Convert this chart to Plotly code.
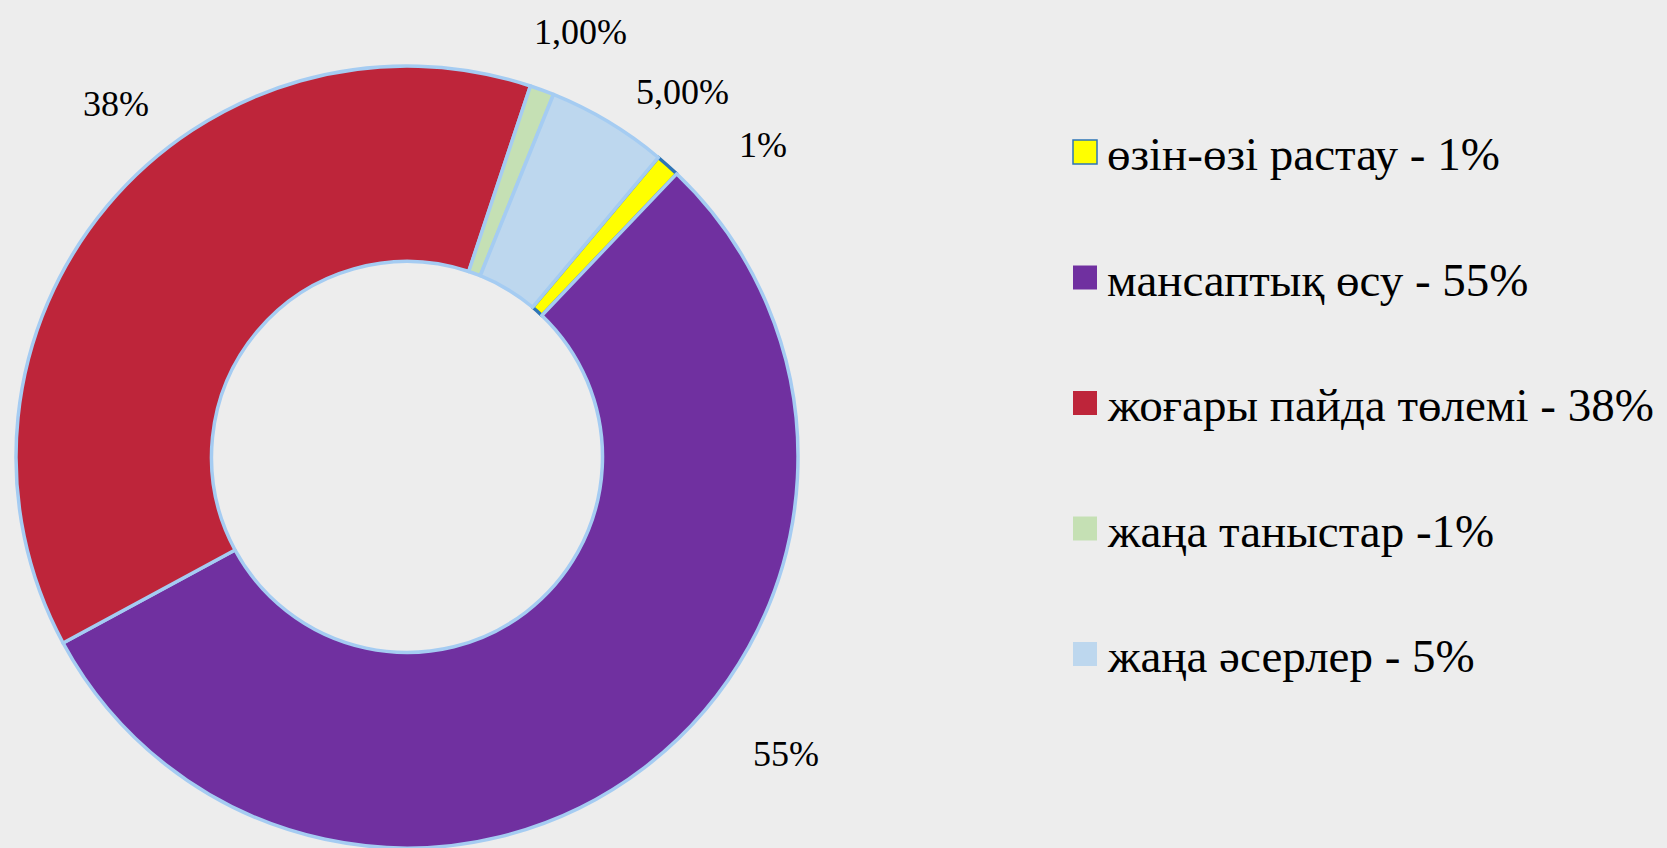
import math
import plotly.graph_objects as go

# ---- data ----
categories = ["өзін-өзі растау - 1%", "мансаптық өсу - 55%", "жоғары пайда төлемі - 38%",
              "жаңа таныстар -1%", "жаңа әсерлер - 5%"]
values = [1, 55, 38, 1, 5]
slice_text = ["1%", "55%", "38%", "1,00%", "5,00%"]

# ---- style ----
colors = ["#FFFF00", "#7030A0", "#BE253A", "#C5E0B4", "#BDD7EE"]
edge_colors = ["#2E75B6", "#A5CCF2", "#A5CCF2", "#A5CCF2", "#A5CCF2"]
label_angle_nudge = [7, -14.5, 10.5, 2, 6]      # degrees, label placement tweak
label_radius = [473, 482, 457, 459, 457]         # px from centre
W, H = 1667, 848
FONT = "'Liberation Serif', 'Times New Roman', serif"
rotation = 40
cx_px, cy_px, R_px = 407, 457, 391

dom_x = [(cx_px - R_px) / W, (cx_px + R_px) / W]
dom_y = [1 - (cy_px + R_px) / H, 1 - (cy_px - R_px) / H]

fig = go.Figure(go.Pie(
    labels=categories, values=values, sort=False, direction="clockwise",
    rotation=rotation, hole=0.5, textinfo="none", showlegend=False,
    marker=dict(colors=colors, line=dict(color=edge_colors, width=3.5)),
    domain=dict(x=dom_x, y=dom_y), hoverinfo="label+percent",
))

annotations = []
shapes = []
total = sum(values)
cum = rotation
for i, v in enumerate(values):
    span = 360 * v / total
    mid = cum + span / 2 + label_angle_nudge[i]
    cum += span
    a = math.radians(mid)
    px = cx_px + label_radius[i] * math.sin(a)
    py = cy_px - label_radius[i] * math.cos(a)
    annotations.append(dict(x=px / W, y=1 - py / H, xref="paper", yref="paper",
                            text=slice_text[i], showarrow=False,
                            font=dict(family=FONT, size=36, color="#000000"),
                            xanchor="center", yanchor="middle"))

# manual legend
leg_sq_x0, leg_sq_size, leg_text_x = 1073, 24, 1105
leg_y0, leg_dy = 152, 125.5
for i, lab in enumerate(categories):
    yc = leg_y0 + i * leg_dy
    shapes.append(dict(type="rect", xref="paper", yref="paper",
                       x0=leg_sq_x0 / W, x1=(leg_sq_x0 + leg_sq_size) / W,
                       y0=1 - (yc + leg_sq_size / 2) / H, y1=1 - (yc - leg_sq_size / 2) / H,
                       fillcolor=colors[i],
                       line=dict(color=edge_colors[i] if i == 0 else colors[i], width=1.5 if i == 0 else 0)))
    annotations.append(dict(x=leg_text_x / W, y=1 - (yc + 2) / H, xref="paper", yref="paper",
                            text=lab, showarrow=False, xanchor="left", yanchor="middle",
                            font=dict(family=FONT, size=47, color="#000000")))

fig.update_layout(
    width=W, height=H, margin=dict(l=0, r=0, t=0, b=0),
    paper_bgcolor="#EDEDED", plot_bgcolor="#EDEDED",
    annotations=annotations, shapes=shapes,
    font=dict(family=FONT),
)
fig.write_html("out.html", config={"displayModeBar": False},
               post_script="document.body.style.margin='0';document.body.style.background='#EDEDED';")
